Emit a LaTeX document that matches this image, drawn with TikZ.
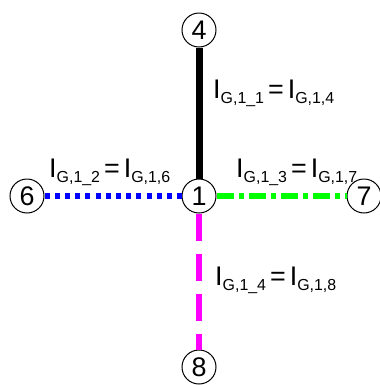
\documentclass[tikz,border=0pt]{standalone}
\usepackage{fontspec}
\setmainfont{Liberation Sans}
\definecolor{pblue}{RGB}{0,0,255}
\definecolor{pgreen}{RGB}{0,255,0}
\definecolor{pmag}{RGB}{255,0,255}
\newcommand\ilabel[2]{{\fontsize{27}{27}\selectfont I}\raisebox{-5bp}{\fontsize{16}{16}\selectfont #1}\hspace{4bp}{\fontsize{27}{27}\selectfont =}\hspace{4bp}{\fontsize{27}{27}\selectfont I}\raisebox{-5bp}{\fontsize{16}{16}\selectfont #2}}
\tikzset{
  bus/.style={circle, draw=black, line width=1bp, minimum size=34bp, inner sep=0pt, fill=white, font=\fontsize{27}{27}\selectfont},
  lbl/.style={anchor=base west, inner sep=0pt},
}
\begin{document}
\begin{tikzpicture}[x=1bp,y=-1bp]
\useasboundingbox (0,0) rectangle (380,385);
\node[bus] (n4) at (199,30) {4};
\node[bus] (n1) at (199,196) {1};
\node[bus] (n6) at (27,196) {6};
\node[bus] (n7) at (364,196) {7};
\node[bus] (n8) at (199,367) {8};
\draw[line width=7bp, black] (n4) -- (n1);
\draw[line width=6bp, pblue, dash pattern=on 5bp off 5.2bp] (n6) -- (n1);
\draw[line width=6bp, pgreen, dash pattern=on 17bp off 5bp on 5bp off 5bp] (n1) -- (n7);
\draw[line width=6.5bp, pmag, dash pattern=on 27bp off 13bp] (n1) -- (n8);
\node[lbl] (l1) at (213,98) {\ilabel{G,1\_1}{G,1,4}};
\node[lbl] (l2) at (49,177) {\ilabel{G,1\_2}{G,1,6}};
\node[lbl] (l3) at (236,177) {\ilabel{G,1\_3}{G,1,7}};
\node[lbl] (l4) at (215,285) {\ilabel{G,1\_4}{G,1,8}};
\end{tikzpicture}
\end{document}
